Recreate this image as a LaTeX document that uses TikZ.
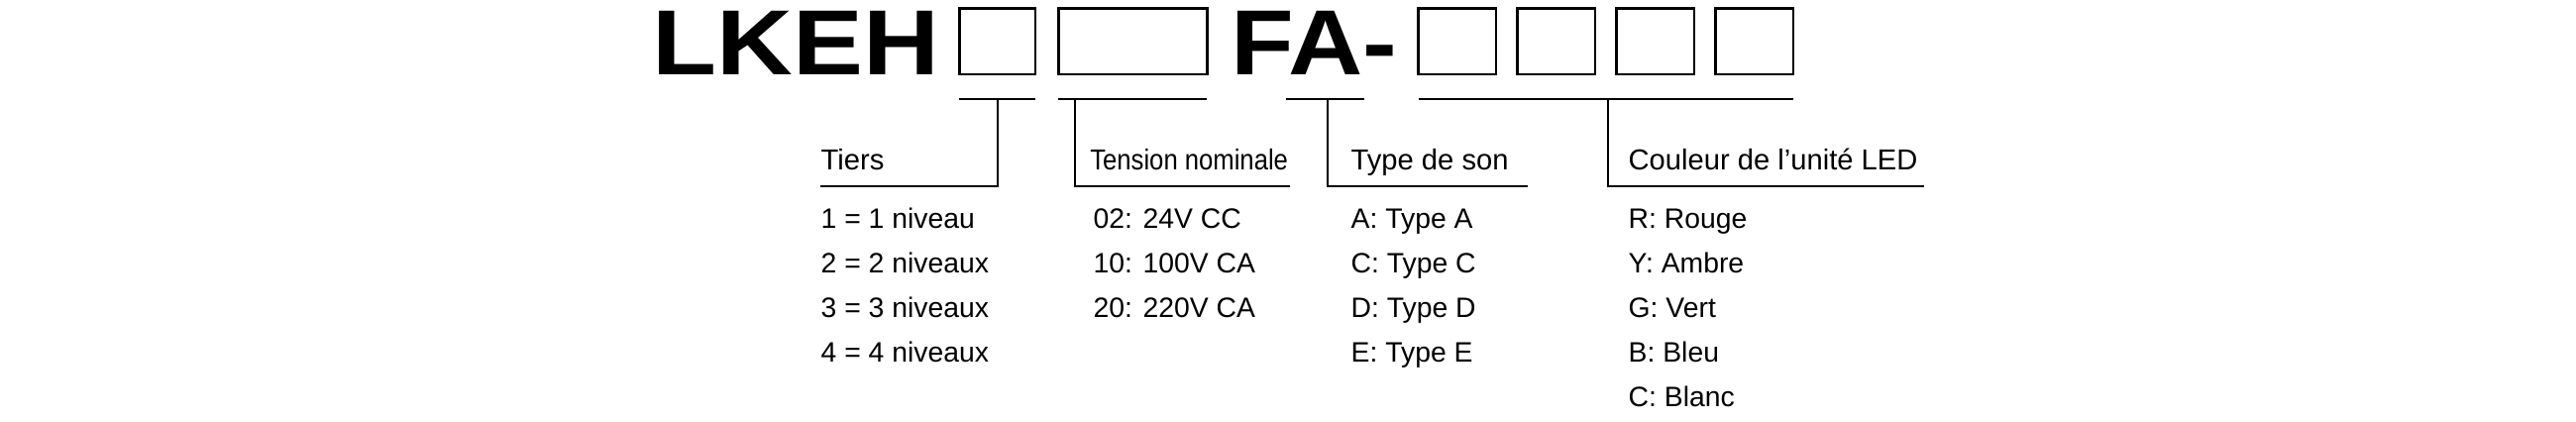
\documentclass[tikz,border=0pt]{standalone}
\usepackage{fontspec}
\setmainfont{Liberation Sans}
\begin{document}
\begin{tikzpicture}[x=1pt,y=-1pt,
  big/.style={font=\fontsize{56}{60}\selectfont\bfseries,inner sep=0pt,anchor=base west,xscale=1.14},
  cbox/.style={draw,line width=1.6pt},
  br/.style={line width=1.3pt},
  head/.style={font=\fontsize{17.5}{20}\selectfont,inner sep=0pt,anchor=base west},
  item/.style={font=\fontsize{17}{20}\selectfont,inner sep=0pt,anchor=base west}]
\useasboundingbox (0,0) rectangle (1560,255);
\node[big] (lkeh) at (395,45) {LKEH};
\node[big,xscale=0.98] (fa) at (745,45) {FA-};
\foreach \a/\b [count=\i] in {581/627,641/731,859/906,919/966,979/1026,1039/1086}
  \draw[cbox] (\a,5) rectangle (\b,45);
% brackets
\coordinate (b1a) at (581,60); \coordinate (b1b) at (627,60);
\draw[br] (b1a) -- (b1b); \draw[br] (604,60) -- (604,113) -- (497,113);
\draw[br] (641,60) -- (731,60); \draw[br] (651,60) -- (651,113) -- (781,113);
\draw[br] (779,60) -- (826,60); \draw[br] (804,60) -- (804,113) -- (925,113);
\draw[br] (859,60) -- (1086,60); \draw[br] (974,60) -- (974,113) -- (1165,113);
% headings
\node[head] (h1) at (497,103) {Tiers};
\node[head,xscale=0.88] (h2) at (660,103) {Tension nominale};
\node[head] (h3) at (818,103) {Type de son};
\node[head] (h4) at (986,103) {Couleur de l'unité LED};
% items
\foreach \t [count=\i] in {1 = 1 niveau,2 = 2 niveaux,3 = 3 niveaux,4 = 4 niveaux}
  \node[item] (t\i) at (497,{138+27*(\i-1)}) {\t};
\foreach \t [count=\i] in {02: 24V CC,10: 100V CA,20: 220V CA}
  \node[item] (v\i) at (662,{138+27*(\i-1)}) {\t};
\foreach \t [count=\i] in {A: Type A,C: Type C,D: Type D,E: Type E}
  \node[item] (s\i) at (818,{138+27*(\i-1)}) {\t};
\foreach \t [count=\i] in {R: Rouge,Y: Ambre,G: Vert,B: Bleu,C: Blanc}
  \node[item] (c\i) at (986,{138+27*(\i-1)}) {\t};
\end{tikzpicture}
\end{document}
